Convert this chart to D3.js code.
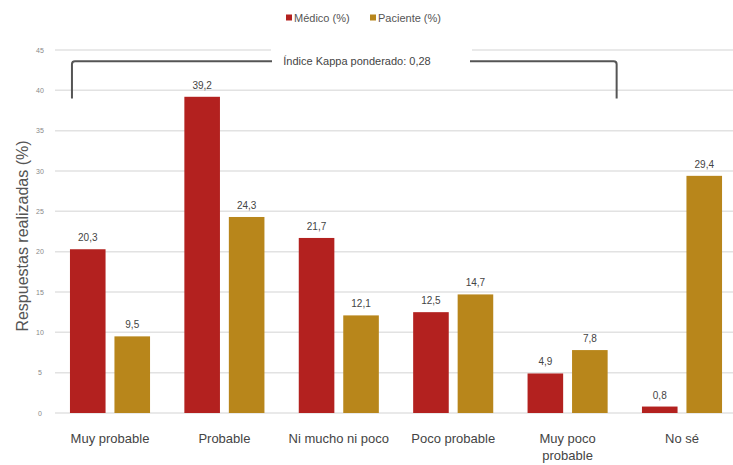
<!DOCTYPE html>
<html><head><meta charset="utf-8">
<script src="https://cdn.jsdelivr.net/npm/d3@7"></script>
<style>
body{margin:0;background:#fff;}
text{font-family:"Liberation Sans",Arial,sans-serif;}
</style></head>
<body><svg id="c" width="733" height="465"></svg>
<script>
const categories = ["Muy probable","Probable","Ni mucho ni poco","Poco probable","Muy poco probable","No sé"];
const categoryLines = [["Muy probable"],["Probable"],["Ni mucho ni poco"],["Poco probable"],["Muy poco","probable"],["No sé"]];
const seriesNames = ["Médico (%)","Paciente (%)"];
const medico = [20.3,39.2,21.7,12.5,4.9,0.8];
const paciente = [9.5,24.3,12.1,14.7,7.8,29.4];
const yTicks = [0,5,10,15,20,25,30,35,40,45];
const annotationText = "Índice Kappa ponderado: 0,28";
const yTitle = "Respuestas realizadas (%)";
const colors = ["#B3211F","#B8861B"];

const svg = d3.select("#c");
const x0 = d3.scaleBand().domain(categories).range([52.8,739.2]).paddingInner(0.3).paddingOuter(0.15);
const x1 = d3.scaleBand().domain([0,1]).range([0,x0.bandwidth()]).paddingInner(0.2);
const y = d3.scaleLinear().domain([0,45]).range([413,50]);
const fmt = v => d3.format(".1f")(v).replace(".",",");

// gridlines
svg.append("g").selectAll("line").data(yTicks).join("line")
  .attr("x1",55).attr("x2",733).attr("y1",d=>y(d)).attr("y2",d=>y(d))
  .attr("stroke","#e2e2e2").attr("stroke-width",1.5);

// y tick labels
svg.append("g").selectAll("text").data(yTicks).join("text")
  .attr("x",40).attr("y",d=>y(d)+2.5).attr("text-anchor","middle")
  .attr("font-size",7).attr("fill","#888").text(d=>d);

// y title
svg.append("text").attr("transform",`translate(28,236) rotate(-90)`)
  .attr("text-anchor","middle").attr("font-size",16).attr("fill","#555").text(yTitle);

// bars
const rows = categories.map((c,i)=>({c, vals:[medico[i],paciente[i]]}));
const g = svg.append("g").selectAll("g").data(rows).join("g").attr("transform",d=>`translate(${x0(d.c)},0)`);
g.selectAll("rect").data(d=>d.vals.map((v,k)=>({v,k}))).join("rect")
  .attr("x",d=>x1(d.k)).attr("width",x1.bandwidth())
  .attr("y",d=>y(d.v)).attr("height",d=>y(0)-y(d.v)).attr("fill",d=>colors[d.k]);
g.selectAll("text").data(d=>d.vals.map((v,k)=>({v,k}))).join("text")
  .attr("x",d=>x1(d.k)+x1.bandwidth()/2).attr("y",d=>y(d.v)-8)
  .attr("text-anchor","middle").attr("font-size",10).attr("fill","#444").text(d=>fmt(d.v));

// x labels
const xl = svg.append("g").selectAll("text").data(categories).join("text")
  .attr("x",d=>x0(d)+x0.bandwidth()/2).attr("y",443)
  .attr("text-anchor","middle").attr("font-size",13).attr("fill","#444");
xl.each(function(d,i){
  const t=d3.select(this);
  categoryLines[i].forEach((ln,j)=>t.append("tspan").attr("x",x0(d)+x0.bandwidth()/2).attr("dy",j?17:0).text(ln));
});

// legend
const leg = svg.append("g");
const legX=[286,370];
seriesNames.forEach((n,k)=>{
  leg.append("rect").attr("x",legX[k]).attr("y",14.5).attr("width",6).attr("height",6).attr("fill",colors[k]);
  leg.append("text").attr("x",legX[k]+8).attr("y",21.5).attr("font-size",11).attr("fill","#555").text(n);
});

// kappa bracket
const bx1 = x0(categories[0]), bx2 = x0(categories[4])+x0.bandwidth()+9;
const bTop = y(43.6), bBot = y(39);
svg.append("rect").attr("x",271).attr("y",40).attr("width",201).attr("height",42).attr("fill","#fff");
svg.append("path").attr("fill","none").attr("stroke","#555").attr("stroke-width",2)
  .attr("d",`M${bx1+2},${bBot} V${bTop+3} Q${bx1+2},${bTop} ${bx1+5},${bTop} H272`);
svg.append("path").attr("fill","none").attr("stroke","#555").attr("stroke-width",2)
  .attr("d",`M470,${bTop} H${bx2-3} Q${bx2},${bTop} ${bx2},${bTop+3} V${bBot}`);
svg.append("text").attr("x",357).attr("y",bTop+4).attr("text-anchor","middle")
  .attr("font-size",11).attr("fill","#444").text(annotationText);
</script></body></html>
